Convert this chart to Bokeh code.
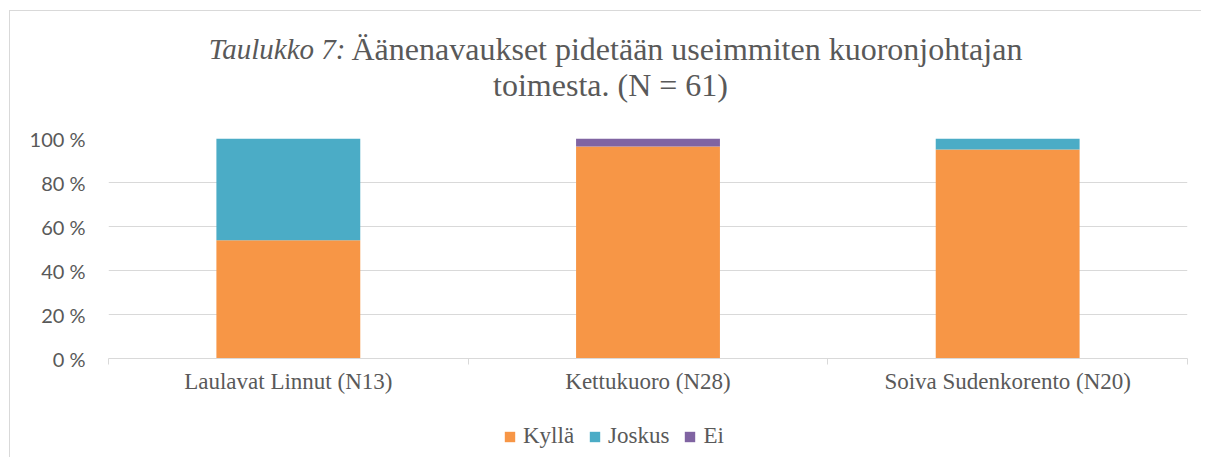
import numpy as np
from bokeh.plotting import figure
from bokeh.models import Range1d, FixedTicker, Legend, LegendItem, Label
from bokeh.layouts import column
from bokeh.embed import file_html
from bokeh.resources import INLINE

# ---- data ----
categories = ["Laulavat Linnut (N13)", "Kettukuoro (N28)", "Soiva Sudenkorento (N20)"]
series = ["Kyllä", "Joskus", "Ei"]
kylla = [53.8, 96.4, 95.0]
joskus = [46.2, 0.0, 5.0]
ei = [0.0, 3.6, 0.0]
colors = ["#F79646", "#4BACC6", "#8064A2"]
yticks = [0, 20, 40, 60, 80, 100]
ytick_labels = [f"{t}\u00a0%" for t in yticks]
title_italic = "Taulukko 7:"
title_line1 = "Äänenavaukset pidetään useimmiten kuoronjohtajan"
title_line2 = "toimesta. (N = 61)"

TXT = "#595959"
GRID = "#d9d9d9"
W = 1191
FRAME_L, FRAME_R = 109, 1188   # page pixels of the (column-aligned) plot frame


def strip(height, xr, yr):
    fig = figure(width=W, height=height, output_backend="svg", toolbar_location=None,
                 x_range=xr, y_range=yr, x_axis_location=None, y_axis_location=None,
                 min_border=0, min_border_left=0, min_border_right=0,
                 min_border_top=0, min_border_bottom=0, margin=0)
    fig.outline_line_color = None
    fig.background_fill_color = "white"
    fig.border_fill_color = "white"
    fig.grid.visible = False
    return fig


# ---- title strip (x in page pixels) ----
pt = strip(100, Range1d(FRAME_L, FRAME_R), Range1d(0, 100))
pt.add_layout(Label(x=346, y=63, text=title_italic, text_align="right",
                    text_baseline="alphabetic", text_font="Liberation Serif",
                    text_font_style="italic", text_font_size="29px", text_color=TXT))
pt.add_layout(Label(x=352, y=63, text=title_line1, text_align="left",
                    text_baseline="alphabetic", text_font="Liberation Serif",
                    text_font_size="32px", text_color=TXT))
pt.add_layout(Label(x=611, y=27, text=title_line2, text_align="center",
                    text_baseline="alphabetic", text_font="Liberation Serif",
                    text_font_size="32px", text_color=TXT))

# ---- main chart ----
xpos = list(np.arange(len(categories)) + 0.5)
source = dict(x=xpos, Kyllä=kylla, Joskus=joskus, Ei=ei)

p = figure(width=W, height=297, output_backend="svg", toolbar_location=None,
           x_range=Range1d(0, len(categories)), y_range=Range1d(0, 100),
           min_border_left=98, min_border_right=14, min_border_top=27,
           min_border_bottom=50, margin=0)
p.outline_line_color = None
p.background_fill_color = "white"
p.border_fill_color = "white"

p.vbar_stack(series, x="x", width=0.4, source=source, color=colors, line_color=None)

p.yaxis.ticker = FixedTicker(ticks=yticks)
p.yaxis.major_label_overrides = {t: l for t, l in zip(yticks, ytick_labels)}
p.yaxis.axis_line_color = None
p.yaxis.major_tick_line_color = None
p.yaxis.minor_tick_line_color = None
p.yaxis.major_tick_out = 0
p.yaxis.major_label_standoff = 23
p.yaxis.major_label_text_font = "Lato"
p.yaxis.major_label_text_font_size = "20px"
p.yaxis.major_label_text_color = TXT
p.ygrid.ticker = FixedTicker(ticks=yticks)
p.ygrid.grid_line_color = GRID
p.ygrid.grid_line_width = 1

p.xaxis.ticker = FixedTicker(ticks=xpos, minor_ticks=list(range(len(categories) + 1)))
p.xaxis.major_label_overrides = {float(x): c for x, c in zip(xpos, categories)}
p.xaxis.axis_line_color = GRID
p.xaxis.major_tick_line_color = None
p.xaxis.major_tick_out = 0
p.xaxis.major_tick_in = 0
p.xaxis.minor_tick_line_color = GRID
p.xaxis.minor_tick_out = 6
p.xaxis.minor_tick_in = 0
p.xaxis.major_label_standoff = 4
p.xaxis.major_label_text_font = "Liberation Serif"
p.xaxis.major_label_text_font_size = "23px"
p.xaxis.major_label_text_color = TXT
p.xgrid.grid_line_color = None

# ---- legend strip (swatches from zero-height renderers of the same colours) ----
pl = strip(49, Range1d(0, 1), Range1d(0, 1))
lr = [pl.vbar(x=[0.5], top=[0], bottom=[0], width=0.1, color=c, line_color=None)
      for c in colors]
leg = Legend(items=[LegendItem(label=s, renderers=[r]) for s, r in zip(series, lr)],
             orientation="horizontal", location=(395, 8),
             glyph_width=13, glyph_height=13, label_standoff=7, spacing=14,
             padding=0, margin=0, border_line_color=None,
             background_fill_alpha=0, label_text_font="Liberation Serif",
             label_text_font_size="23px", label_text_color=TXT)
pl.add_layout(leg, "center")

layout = column(pt, p, pl, spacing=0, margin=(10, 0, 0, 9),
                styles={"border-left": "1px solid #d9d9d9", "border-top": "1px solid #d9d9d9"})

open("out.html", "w").write(file_html(layout, INLINE))
